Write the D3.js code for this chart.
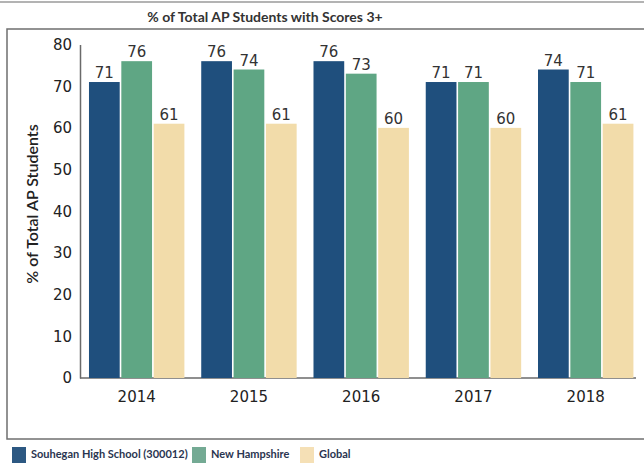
<!DOCTYPE html>
<html>
<head>
<meta charset="utf-8">
<script src="https://cdn.jsdelivr.net/npm/d3@7"></script>
<style>
  body { margin: 0; background: #fff; }
  svg { display: block; font-family: "DejaVu Sans", sans-serif; }
</style>
</head>
<body>
<div id="chart"></div>
<script>
const years = ["2014", "2015", "2016", "2017", "2018"];
const seriesNames = ["Souhegan High School (300012)", "New Hampshire", "Global"];
const souhegan = [71, 76, 76, 71, 74];
const newHampshire = [76, 74, 73, 71, 71];
const global = [61, 61, 60, 60, 61];
const yTicks = [0, 10, 20, 30, 40, 50, 60, 70, 80];

const colors = ["#1f4f7d", "#5fa684", "#f2dcaa"];
const legendColors = ["#2c5882", "#74aa94", "#f5e0b6"];

const width = 644, height = 464;

const svg = d3.select("#chart")
  .append("svg")
  .attr("width", width)
  .attr("height", height);

// scan line at the very top
svg.append("line")
  .attr("x1", 0).attr("x2", width)
  .attr("y1", 2).attr("y2", 2)
  .attr("stroke", "#9a9a9a").attr("stroke-width", 1.5);

// frame
svg.append("rect")
  .attr("x", 7).attr("y", 29)
  .attr("width", 700).attr("height", 410)
  .attr("fill", "none")
  .attr("stroke", "#6f6f6f")
  .attr("stroke-width", 1.5);

// title
svg.append("text")
  .attr("x", 265).attr("y", 22)
  .attr("text-anchor", "middle")
  .attr("font-family", "Lato, sans-serif")
  .attr("font-size", 14)
  .attr("font-weight", "bold")
  .attr("fill", "#333")
  .text("% of Total AP Students with Scores 3+");

// scales
const x = d3.scaleBand()
  .domain(years)
  .range([80, 642.4])
  .paddingInner(0.15)
  .paddingOuter(0.08);

const xs = d3.scaleBand()
  .domain(d3.range(3))
  .range([0, x.bandwidth()])
  .paddingInner(0.05);

const y = d3.scaleLinear()
  .domain([0, 80])
  .range([378, 44.5]);

const data = years.map((yr, i) => ({
  year: yr,
  values: [souhegan[i], newHampshire[i], global[i]]
}));

// x axis line
const xAxis = svg.append("g")
  .attr("transform", "translate(0," + y(0) + ")")
  .call(d3.axisBottom(x).tickSize(0).tickPadding(13));
xAxis.select(".domain").attr("stroke", "#6a6a6a").attr("stroke-width", 1.5)
  .attr("d", "M80,0H636");
xAxis.selectAll("text")
  .attr("font-size", 15)
  .attr("font-family", "'DejaVu Sans', sans-serif")
  .attr("fill", "#222");

// y axis
const yAxis = svg.append("g")
  .attr("transform", "translate(80,0)")
  .call(d3.axisLeft(y).tickValues(yTicks).tickSize(0).tickPadding(8));
yAxis.select(".domain").attr("stroke", "#6a6a6a").attr("stroke-width", 1.5);
yAxis.selectAll("text")
  .attr("font-size", 15)
  .attr("font-family", "'DejaVu Sans', sans-serif")
  .attr("fill", "#222");

// y axis title
svg.append("text")
  .attr("transform", "translate(38,204) rotate(-90)")
  .attr("text-anchor", "middle")
  .attr("font-family", "Lato, sans-serif")
  .attr("font-size", 16)
  .attr("font-weight", 600)
  .attr("fill", "#222")
  .text("% of Total AP Students");

// bars
const groups = svg.selectAll("g.grp")
  .data(data)
  .enter()
  .append("g")
  .attr("class", "grp")
  .attr("transform", d => "translate(" + x(d.year) + ",0)");

groups.selectAll("rect")
  .data(d => d.values)
  .enter()
  .append("rect")
  .attr("x", (d, i) => xs(i))
  .attr("y", d => y(d))
  .attr("width", xs.bandwidth())
  .attr("height", d => y(0) - y(d))
  .attr("fill", (d, i) => colors[i]);

groups.selectAll("text")
  .data(d => d.values)
  .enter()
  .append("text")
  .attr("x", (d, i) => xs(i) + xs.bandwidth() / 2)
  .attr("y", d => y(d) - 4)
  .attr("text-anchor", "middle")
  .attr("font-size", 15)
  .attr("fill", "#333")
  .text(d => d);

// legend
const legendX = [12, 192, 300];
const legend = svg.selectAll("g.leg")
  .data(seriesNames)
  .enter()
  .append("g")
  .attr("class", "leg")
  .attr("transform", (d, i) => "translate(" + legendX[i] + ",447)");

legend.append("rect")
  .attr("width", 14).attr("height", 16)
  .attr("fill", (d, i) => legendColors[i]);

legend.append("text")
  .attr("x", 19).attr("y", 11)
  .attr("font-family", "Lato, sans-serif")
  .attr("font-size", 11)
  .attr("font-weight", "bold")
  .attr("fill", "#2a3550")
  .text(d => d);
</script>
</body>
</html>
